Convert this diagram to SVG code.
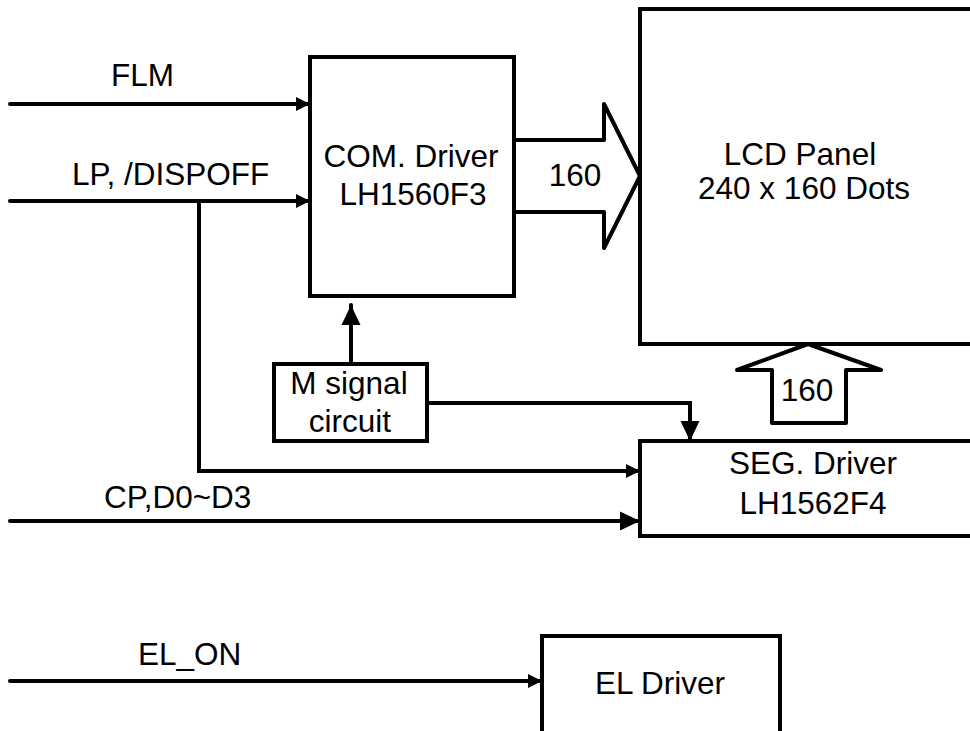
<svg xmlns="http://www.w3.org/2000/svg" width="970" height="731" viewBox="0 0 970 731">
<style>
.box{fill:#fff;stroke:#000;stroke-width:4;stroke-linejoin:miter}
.ln{fill:none;stroke:#000;stroke-width:4;stroke-linecap:round}
.bus{fill:#fff;stroke:#000;stroke-width:4;stroke-linejoin:round}
text{font-family:"Liberation Sans",Arial,sans-serif;font-size:31.5px;fill:#000}
.c{text-anchor:middle}
</style>
<defs>
<marker id="a1" markerUnits="userSpaceOnUse" markerWidth="14" markerHeight="14" refX="14" refY="7" orient="auto"><path d="M0,0 L14,7 L0,14 z" fill="#000"/></marker>
<marker id="a2" markerUnits="userSpaceOnUse" markerWidth="20" markerHeight="20" refX="20" refY="10" orient="auto"><path d="M0,0.5 L20,10 L0,19.5 z" fill="#000"/></marker>
</defs>
<rect width="970" height="731" fill="#fff"/>
<g id="lcd">
<rect class="box" x="640" y="9" width="340" height="335"/>
<text class="c" x="800" y="165">LCD Panel</text>
<text class="c" x="804" y="199">240 x 160 Dots</text>
</g>
<g id="com">
<rect class="box" x="310" y="57" width="204" height="239"/>
<text class="c" x="411" y="167">COM. Driver</text>
<text class="c" x="413" y="205">LH1560F3</text>
</g>
<g id="msig">
<rect class="box" x="274" y="364" width="153" height="77"/>
<text class="c" x="349" y="394">M signal</text>
<text class="c" x="350" y="432">circuit</text>
</g>
<g id="seg">
<rect class="box" x="640" y="441" width="340" height="95"/>
<text class="c" x="813" y="474">SEG. Driver</text>
<text class="c" x="813" y="514">LH1562F4</text>
</g>
<g id="el">
<rect class="box" x="542" y="636" width="238" height="100"/>
<text class="c" x="660" y="694">EL Driver</text>
</g>
<g id="connectors">
<polygon class="bus" points="514,140 604,140 604,104 640,176 604,248 604,212 514,212"/>
<text class="c" x="575" y="186">160</text>
<polygon class="bus" points="808,344 881,370 846,370 846,423 772,423 772,370 737,370"/>
<text class="c" x="807" y="401">160</text>
<line class="ln" x1="10" y1="104" x2="310" y2="104" marker-end="url(#a1)"/>
<text x="111" y="86">FLM</text>
<line class="ln" x1="10" y1="201" x2="310" y2="201" marker-end="url(#a1)"/>
<text x="72" y="185">LP, /DISPOFF</text>
<polyline class="ln" points="199,201 199,471 640,471" marker-end="url(#a1)"/>
<line class="ln" x1="351" y1="364" x2="351" y2="305" marker-end="url(#a2)"/>
<polyline class="ln" points="427,403 690,403 690,441" marker-end="url(#a2)"/>
<line class="ln" x1="10" y1="521" x2="640" y2="521" marker-end="url(#a2)"/>
<text x="104" y="508">CP,D0~D3</text>
<line class="ln" x1="10" y1="681" x2="542" y2="681" marker-end="url(#a1)"/>
<text x="138" y="665">EL_ON</text>
</g>
</svg>
